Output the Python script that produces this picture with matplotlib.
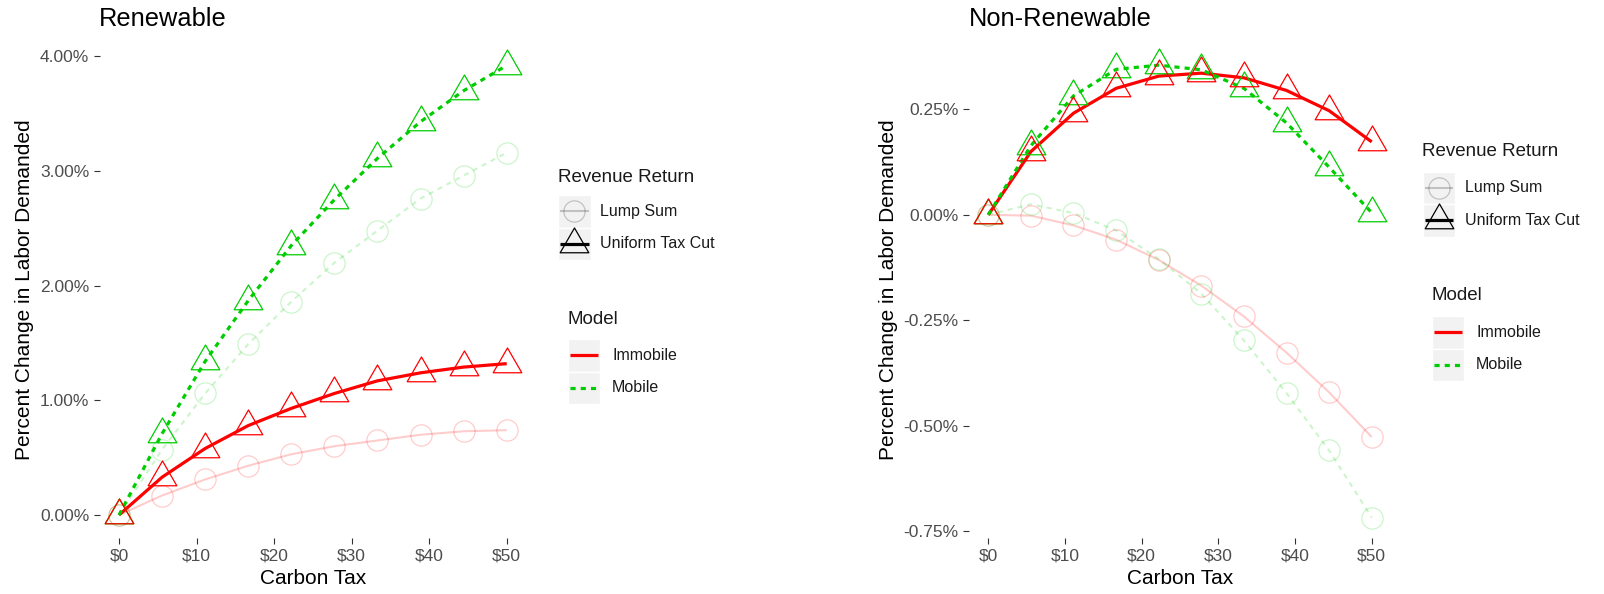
import matplotlib
matplotlib.use("Agg")
import matplotlib.pyplot as plt
from matplotlib.path import Path
from matplotlib.patches import Rectangle
from matplotlib.ticker import FuncFormatter, FixedLocator

plt.rcParams['font.family'] = ['Liberation Sans', 'DejaVu Sans']

# Carbon tax levels ($ per ton)
tax = [0, 5.56, 11.11, 16.67, 22.22, 27.78, 33.33, 38.89, 44.44, 50]

# Renewable sector: % change in labor demanded
ren_immobile_lump = [0, 0.17, 0.31, 0.43, 0.53, 0.60, 0.65, 0.70, 0.73, 0.74]
ren_mobile_lump = [0, 0.57, 1.06, 1.49, 1.86, 2.20, 2.48, 2.76, 2.96, 3.16]
ren_immobile_cut = [0, 0.33, 0.58, 0.78, 0.93, 1.06, 1.17, 1.24, 1.29, 1.32]
ren_mobile_cut = [0, 0.71, 1.34, 1.87, 2.35, 2.75, 3.11, 3.43, 3.70, 3.92]

# Non-renewable sector: % change in labor demanded
non_immobile_lump = [0, -0.002, -0.025, -0.059, -0.107, -0.168, -0.241, -0.327, -0.421, -0.527]
non_mobile_lump = [0, 0.025, 0.004, -0.037, -0.105, -0.187, -0.298, -0.423, -0.559, -0.718]
non_immobile_cut = [0, 0.150, 0.241, 0.300, 0.329, 0.336, 0.325, 0.295, 0.247, 0.173]
non_mobile_cut = [0, 0.164, 0.282, 0.345, 0.355, 0.344, 0.300, 0.218, 0.113, 0.005]

panel_titles = ["Renewable", "Non-Renewable"]
x_ticks = [0, 10, 20, 30, 40, 50]
x_labels = ["$0", "$10", "$20", "$30", "$40", "$50"]
ren_y_ticks = [0, 1, 2, 3, 4]
non_y_ticks = [-0.75, -0.5, -0.25, 0, 0.25]
x_title = "Carbon Tax"
y_title = "Percent Change in Labor Demanded"
legend_rev_title = "Revenue Return"
legend_rev_labels = ["Lump Sum", "Uniform Tax Cut"]
legend_model_title = "Model"
legend_model_labels = ["Immobile", "Mobile"]

RED = "#FF0000"
GREEN = "#00CD00"
LUMP_ALPHA = 0.2
W, H = 1604, 594

# R-style open triangle (pch 2), centred on its centroid
tri = Path([(0, 1.555), (-1.347, -0.778), (1.347, -0.778), (0, 1.555)],
           [Path.MOVETO, Path.LINETO, Path.LINETO, Path.CLOSEPOLY])
TRI_MS = 23.8
CIRC_MS = 15.3
MEW = 0.9
LW_CUT = 2.3
LW_LUMP = 1.5
DASH_CUT = (1.6, 1.6)
DASH_LUMP = (2.4, 2.4)

fig = plt.figure(figsize=(W / 100, H / 100), dpi=100)


def px_axes(l, t, r, b):
    return fig.add_axes([l / W, 1 - b / H, (r - l) / W, (b - t) / H])


def draw_panel(ax, series, ylim, yticks, yfmt):
    # lines first, then markers on top (mobile markers below immobile ones)
    for y, color, dashed, cut, alpha in series:
        lw = LW_CUT if cut else LW_LUMP
        kw = {}
        if dashed:
            kw = dict(dashes=DASH_CUT if cut else DASH_LUMP, dash_capstyle="butt")
        ax.plot(tax, y, color=color, linewidth=lw, alpha=alpha,
                solid_capstyle="butt", zorder=2, **kw)
    for y, color, dashed, cut, alpha in sorted(series, key=lambda s: (s[3], not s[2])):
        ax.plot(tax, y, linestyle="none", marker=tri if cut else "o",
                markersize=TRI_MS if cut else CIRC_MS,
                markerfacecolor="none", markeredgecolor=color,
                markeredgewidth=MEW, alpha=alpha, zorder=3)
    ax.set_xlim(-2.5, 52.5)
    ax.set_ylim(*ylim)
    ax.xaxis.set_major_locator(FixedLocator(x_ticks))
    ax.set_xticklabels(x_labels)
    ax.yaxis.set_major_locator(FixedLocator(yticks))
    ax.yaxis.set_major_formatter(FuncFormatter(yfmt))
    for s in ax.spines.values():
        s.set_visible(False)
    ax.tick_params(axis="both", length=4, width=0.8, color="#333333",
                   labelcolor="#4D4D4D", labelsize=12.5, pad=3.5)
    ax.set_facecolor("white")


def pct_fmt(v, _):
    return f"{v:.2f}%"


PANEL_TOP, PANEL_BOTTOM = 42, 538

ax1 = px_axes(99.6, PANEL_TOP, 526.1, PANEL_BOTTOM)
draw_panel(ax1, [
    (ren_immobile_lump, RED, False, False, LUMP_ALPHA),
    (ren_mobile_lump, GREEN, True, False, LUMP_ALPHA),
    (ren_immobile_cut, RED, False, True, 1.0),
    (ren_mobile_cut, GREEN, True, True, 1.0),
], (-0.2005, 4.125), ren_y_ticks, pct_fmt)

ax2 = px_axes(969.1, PANEL_TOP, 1390.9, PANEL_BOTTOM)
draw_panel(ax2, [
    (non_immobile_lump, RED, False, False, LUMP_ALPHA),
    (non_mobile_lump, GREEN, True, False, LUMP_ALPHA),
    (non_immobile_cut, RED, False, True, 1.0),
    (non_mobile_cut, GREEN, True, True, 1.0),
], (-0.7666, 0.4099), non_y_ticks, pct_fmt)

# Overlay in pixel coordinates for titles, axis titles and legends
ov = fig.add_axes([0, 0, 1, 1], zorder=5)
ov.set_xlim(0, W)
ov.set_ylim(H, 0)
ov.axis("off")
ov.patch.set_alpha(0)

TXT = "#1A1A1A"
ov.text(99, 19, panel_titles[0], fontsize=18.3, color="black", va="center", ha="left")
ov.text(969, 19, panel_titles[1], fontsize=18.3, color="black", va="center", ha="left")
ov.text((99.6 + 526.1) / 2, 578, x_title, fontsize=15, color="black", ha="center", va="center")
ov.text((969.1 + 1390.9) / 2, 578, x_title, fontsize=15, color="black", ha="center", va="center")
mid_y = (PANEL_TOP + PANEL_BOTTOM) / 2
ov.text(24.5, mid_y, y_title, fontsize=15, color="black", rotation=90, ha="center", va="center")
ov.text(888, mid_y, y_title, fontsize=15, color="black", rotation=90, ha="center", va="center")


def draw_legends(rx, rtitle_y, rbox_top, mx, mtitle_y, mbox_top):
    key = 32.5
    # Revenue Return legend
    ov.text(rx, rtitle_y, legend_rev_title, fontsize=13.5, color=TXT, ha="left", va="center")
    for i, lab in enumerate(legend_rev_labels):
        top = rbox_top + i * key
        ov.add_patch(Rectangle((rx, top), key, key, facecolor="#F2F2F2", edgecolor="white", lw=1))
        cx, cy = rx + key / 2, top + key / 2
        if i == 0:
            ov.plot([rx + 2, rx + key - 2], [cy, cy], color="black", lw=LW_LUMP,
                    alpha=LUMP_ALPHA, solid_capstyle="butt")
            ov.plot([cx], [cy], marker="o", markersize=CIRC_MS, markerfacecolor="none",
                    markeredgecolor="black", markeredgewidth=MEW, alpha=LUMP_ALPHA)
        else:
            ov.plot([rx + 2, rx + key - 2], [cy, cy], color="black", lw=LW_CUT,
                    solid_capstyle="butt")
            ov.plot([cx], [cy], marker=tri, markersize=TRI_MS, markerfacecolor="none",
                    markeredgecolor="black", markeredgewidth=MEW)
        ov.text(rx + key + 10, cy, lab, fontsize=11.5, color=TXT, ha="left", va="center")
    # Model legend
    ov.text(mx, mtitle_y, legend_model_title, fontsize=13.5, color=TXT, ha="left", va="center")
    for i, lab in enumerate(legend_model_labels):
        top = mbox_top + i * key
        ov.add_patch(Rectangle((mx, top), key, key, facecolor="#F2F2F2", edgecolor="white", lw=1))
        cy = top + key / 2
        if i == 0:
            ov.plot([mx + 2, mx + key - 2], [cy, cy], color=RED, lw=LW_CUT, solid_capstyle="butt")
        else:
            ov.plot([mx + 2, mx + key - 2], [cy, cy], color=GREEN, lw=LW_CUT,
                    dashes=DASH_CUT, dash_capstyle="butt")
        ov.text(mx + key + 12, cy, lab, fontsize=11.5, color=TXT, ha="left", va="center")


draw_legends(558, 178, 195, 567.5, 320, 339)
draw_legends(1422.5, 152, 171.5, 1431.5, 295, 316)

fig.savefig("out.png", dpi=100, facecolor="white")
